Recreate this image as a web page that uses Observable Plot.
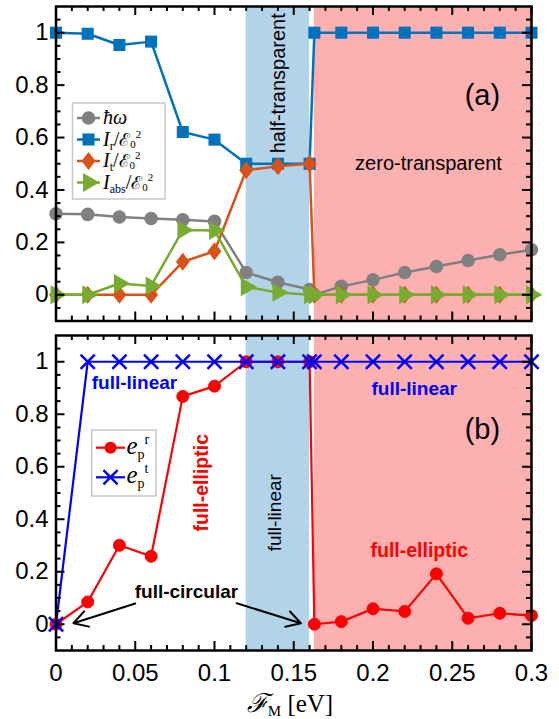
<!DOCTYPE html>
<html><head><meta charset="utf-8">
<script src="https://cdn.jsdelivr.net/npm/d3@7"></script>
<script src="https://cdn.jsdelivr.net/npm/@observablehq/plot@0.6"></script>
<style>
html,body{margin:0;padding:0;background:#fff;}
#wrap{position:relative;width:559px;height:719px;overflow:hidden;background:#fff;}
</style></head><body><div id="wrap"></div>
<script>
// ---------- data ----------
const xVals      = [0,0.02,0.04,0.06,0.08,0.1,0.12,0.14,0.16,0.163,0.18,0.2,0.22,0.24,0.26,0.28,0.3];
const hbarOmega  = [0.309,0.307,0.297,0.291,0.286,0.280,0.085,0.048,0.020,0,0.032,0.057,0.085,0.108,0.131,0.153,0.172];
const intensR    = [1,0.996,0.953,0.966,0.621,0.592,0.5,0.5,0.5,1,1,1,1,1,1,1,1];
const intensT    = [0,0,0,0,0.126,0.166,0.475,0.49,0.5,0,0,0,0,0,0,0,0];
const intensAbs  = [0,0,0.043,0.034,0.247,0.245,0.03,0.009,0,0,0,0,0,0,0,0,0];
const ellipR     = [0,0.085,0.301,0.259,0.868,0.907,1,1,1,0,0.01,0.059,0.049,0.192,0.023,0.042,0.033];
const ellipT     = [0,1,1,1,1,1,1,1,1,1,1,1,1,1,1,1,1];

const xDomain = [0,0.3];
const yDomain = [-0.1,1.1];
const xMajorTicks = [0,0.05,0.1,0.15,0.2,0.25,0.3];
const xTickLabels = ["0","0.05","0.1","0.15","0.2","0.25","0.3"];
const xMinorTicks = [0.01,0.02,0.03,0.04,0.06,0.07,0.08,0.09,0.11,0.12,0.13,0.14,0.16,0.17,0.18,0.19,0.21,0.22,0.23,0.24,0.26,0.27,0.28,0.29];
const yMajorTicks = [0,0.2,0.4,0.6,0.8,1];
const yTickLabels = ["0","0.2","0.4","0.6","0.8","1"];
const yMinorTicks = [-0.05,0.05,0.1,0.15,0.25,0.3,0.35,0.45,0.5,0.55,0.65,0.7,0.75,0.85,0.9,0.95,1.05];

const bandBlue = [{start:0.12, end:0.16}];
const bandPink = [{start:0.163, end:0.3}];

const topNotes = [
  {x:0.1404, y:0.807, text:"half-transparent", rotate:-90, size:20, weight:"normal", color:"black"},
  {x:0.269,  y:0.758, text:"(a)", rotate:0, size:29, weight:"normal", color:"black"},
  {x:0.235,  y:0.50,  text:"zero-transparent", rotate:0, size:20, weight:"normal", color:"black"}
];
const bottomNotes = [
  {x:0.269,  y:0.742, text:"(b)", rotate:0, size:29, weight:"normal", color:"black"},
  {x:0.226,  y:0.895, text:"full-linear", rotate:0, size:19, weight:"bold", color:"#0000ff"},
  {x:0.0495, y:0.921, text:"full-linear", rotate:0, size:19, weight:"bold", color:"#0000ff"},
  {x:0.0918, y:0.539, text:"full-elliptic", rotate:-90, size:19.5, weight:"bold", color:"#ff0000"},
  {x:0.1378, y:0.425, text:"full-linear", rotate:-90, size:19, weight:"normal", color:"black"},
  {x:0.2292, y:0.2785, text:"full-elliptic", rotate:0, size:19.5, weight:"bold", color:"#ff0000"},
  {x:0.0823, y:0.125, text:"full-circular", rotate:0, size:19, weight:"bold", color:"black"}
];
const arrows = [
  {x1:0.050, y1:0.079, x2:0.011, y2:0.004},
  {x1:0.114, y1:0.080, x2:0.1545, y2:0.004}
];

// ---------- styles ----------
const C = {gray:"#808080", blue:"#0072BD", orange:"#D95319", green:"#77AC30", red:"#ff0000", pblue:"#0000ff",
           bandBlue:"#b3d3e9", bandPink:"#fdb0b0"};
const SANS = "'Liberation Sans', Arial, Helvetica, sans-serif";
const SERIF = "'Liberation Serif', 'DejaVu Serif', serif";
const W = 559, mL = 55.5, mR = 28;
const innerW = W - mL - mR;

const triRight = {draw(ctx, size){ const y = Math.sqrt(size/(Math.sqrt(3)*3)); ctx.moveTo(2*y,0); ctx.lineTo(-y,-Math.sqrt(3)*y); ctx.lineTo(-y,Math.sqrt(3)*y); ctx.closePath(); }};
const diamondW = {draw(ctx, size){ const k = 0.78; const h = Math.sqrt(size/(2*k)); const w = k*h; ctx.moveTo(0,-h); ctx.lineTo(w,0); ctx.lineTo(0,h); ctx.lineTo(-w,0); ctx.closePath(); }};

const pts = ys => xVals.map((x,i) => ({x, y: ys[i]}));

function tickMarks(innerH){
  return [
    Plot.ruleY(yMajorTicks, {insetRight: innerW - 9, stroke:"black", strokeWidth:2}),
    Plot.ruleY(yMajorTicks, {insetLeft: innerW - 9, stroke:"black", strokeWidth:2}),
    Plot.ruleY(yMinorTicks, {insetRight: innerW - 5, stroke:"black", strokeWidth:2}),
    Plot.ruleY(yMinorTicks, {insetLeft: innerW - 5, stroke:"black", strokeWidth:2}),
    Plot.ruleX(xMajorTicks, {insetTop: innerH - 9, stroke:"black", strokeWidth:2}),
    Plot.ruleX(xMajorTicks, {insetBottom: innerH - 9, stroke:"black", strokeWidth:2}),
    Plot.ruleX(xMinorTicks, {insetTop: innerH - 5, stroke:"black", strokeWidth:2}),
    Plot.ruleX(xMinorTicks, {insetBottom: innerH - 5, stroke:"black", strokeWidth:2})
  ];
}
const noteMarks = notes => notes.map(n => Plot.text([n], {x:"x", y:"y", text:"text", rotate:n.rotate, fontSize:n.size, fontWeight:n.weight, fill:n.color, fontFamily:SANS}));
const bands = () => [
  Plot.rect(bandBlue, {x1:"start", x2:"end", y1:yDomain[0], y2:yDomain[1], fill:C.bandBlue}),
  Plot.rect(bandPink, {x1:"start", x2:"end", y1:yDomain[0], y2:yDomain[1], fill:C.bandPink})
];
const yAxis = () => Plot.axisY(yMajorTicks, {anchor:"left", tickSize:0, tickPadding:7.5, label:null,
  tickFormat: d => yTickLabels[yMajorTicks.indexOf(d)], fontSize:24, fontFamily:SANS, fill:"black"});

// ---------- top panel ----------
const topH = 330, topMT = 6, topMB = 9.5;
const topPlot = Plot.plot({
  width: W, height: topH, marginTop: topMT, marginBottom: topMB, marginLeft: mL, marginRight: mR,
  style: {fontFamily: SANS, fontSize:"24px", background:"transparent", overflow:"visible", color:"black"},
  x: {domain: xDomain, axis: null},
  y: {domain: yDomain},
  marks: [
    ...bands(),
    ...noteMarks(topNotes),
    Plot.line(pts(hbarOmega), {x:"x", y:"y", stroke:C.gray, strokeWidth:2.5}),
    Plot.dot(pts(hbarOmega), {x:"x", y:"y", symbol:"circle", r:6.8, fill:C.gray}),
    Plot.line(pts(intensR), {x:"x", y:"y", stroke:C.blue, strokeWidth:2.5}),
    Plot.dot(pts(intensR), {x:"x", y:"y", symbol:"square", r:6.8, fill:C.blue}),
    Plot.line(pts(intensT), {x:"x", y:"y", stroke:C.orange, strokeWidth:2.5}),
    Plot.dot(pts(intensT), {x:"x", y:"y", symbol:diamondW, r:6.3, fill:C.orange}),
    Plot.line(pts(intensAbs), {x:"x", y:"y", stroke:C.green, strokeWidth:2.5}),
    Plot.dot(pts(intensAbs), {x:"x", y:"y", symbol:triRight, r:7, fill:C.green}),
    ...tickMarks(topH - topMT - topMB),
    yAxis(),
    Plot.frame({stroke:"black", strokeWidth:2.5})
  ]
});

// ---------- bottom panel ----------
const botTop = 330, botH = 389, botMT = 5, botMB = 69;
const botPlot = Plot.plot({
  width: W, height: botH, marginTop: botMT, marginBottom: botMB, marginLeft: mL, marginRight: mR,
  style: {fontFamily: SANS, fontSize:"24px", background:"transparent", overflow:"visible", color:"black"},
  x: {domain: xDomain},
  y: {domain: yDomain},
  marks: [
    ...bands(),
    ...noteMarks(bottomNotes),
    Plot.arrow(arrows, {x1:"x1", y1:"y1", x2:"x2", y2:"y2", stroke:"black", strokeWidth:2, headLength:12}),
    Plot.line(pts(ellipR), {x:"x", y:"y", stroke:C.red, strokeWidth:2.2}),
    Plot.dot(pts(ellipR), {x:"x", y:"y", symbol:"circle", r:6, fill:C.red, stroke:C.red, strokeWidth:1}),
    Plot.line(pts(ellipT), {x:"x", y:"y", stroke:C.pblue, strokeWidth:2.2}),
    Plot.dot(pts(ellipT), {x:"x", y:"y", symbol:"times", r:6.5, stroke:C.pblue, strokeWidth:2.5, fill:"none"}),
    ...tickMarks(botH - botMT - botMB),
    yAxis(),
    Plot.axisX(xMajorTicks, {anchor:"bottom", tickSize:0, tickPadding:13, label:null,
      tickFormat: d => xTickLabels[xMajorTicks.indexOf(d)], fontSize:24, fontFamily:SANS, fill:"black"}),
    Plot.frame({stroke:"black", strokeWidth:2.5})
  ]
});

const wrap = document.getElementById("wrap");
[[topPlot,0],[botPlot,botTop]].forEach(([el,t]) => {
  el.style.position = "absolute"; el.style.left = "0px"; el.style.top = t + "px";
  wrap.appendChild(el);
});

// ---------- legends and x label (overlay) ----------
const ov = d3.select(wrap).append("svg").attr("width", W).attr("height", 719)
  .style("position","absolute").style("left","0px").style("top","0px").style("pointer-events","none");

function rich(g, x, y, parts, anchor){
  const t = g.append("text").attr("x", x).attr("y", y).attr("font-family", SERIF).attr("fill","black");
  if (anchor) t.attr("text-anchor", anchor);
  parts.forEach(p => {
    const s = t.append("tspan").text(p.t).attr("font-size", p.s);
    if (p.i) s.attr("font-style","italic");
    if (p.dy) s.attr("dy", p.dy);
    if (p.dx) s.attr("dx", p.dx);
    if (p.f) s.attr("font-family", p.f);
  });
  return t;
}
const symPath = (type, r) => d3.symbol(type, Math.PI*r*r)();

// top legend
const lg1 = ov.append("g");
lg1.append("rect").attr("x",72.5).attr("y",103).attr("width",92.5).attr("height",96)
  .attr("fill","white").attr("stroke","#c8c8c8").attr("stroke-width",1.5);
const frac = sub => [{t:"I", s:20, i:true},{t:sub, s:12, dy:4},{t:"/", s:20, dy:-4},{t:"ℰ", s:18, f:"'DejaVu Serif', serif"},{t:"0", s:11, dy:2},{t:"2", s:11, dy:-10}];
const leg1 = [
  {c:C.gray, s:d3.symbolCircle, r:6.8, parts:[{t:"ħω", s:20, i:true}]},
  {c:C.blue, s:d3.symbolSquare, r:6.8, parts:frac("r")},
  {c:C.orange, s:diamondW, r:6.3, parts:frac("t")},
  {c:C.green, s:triRight, r:7, parts:frac("abs")}
];
const rows1 = [118, 139.5, 161, 182.5];
leg1.forEach((it, k) => {
  const y = rows1[k];
  lg1.append("line").attr("x1",77).attr("x2",100).attr("y1",y).attr("y2",y).attr("stroke",it.c).attr("stroke-width",2.5);
  lg1.append("path").attr("d", symPath(it.s, it.r)).attr("transform",`translate(88.5,${y})`).attr("fill",it.c);
  rich(lg1, 103, y + 6, it.parts);
});

// bottom legend
const lg2 = ov.append("g");
lg2.append("rect").attr("x",91.7).attr("y",430).attr("width",64.3).attr("height",66)
  .attr("fill","white").attr("stroke","#c8c8c8").attr("stroke-width",1.5);
const rows2 = [447.7, 477.3];
[{c:C.red, kind:"r"},{c:C.pblue, kind:"t"}].forEach((it,k) => {
  const y = rows2[k];
  lg2.append("line").attr("x1",96).attr("x2",125).attr("y1",y).attr("y2",y).attr("stroke",it.c).attr("stroke-width",2.2);
  if (it.kind === "r") lg2.append("path").attr("d", symPath(d3.symbolCircle, 6)).attr("transform",`translate(110.5,${y})`).attr("fill",it.c);
  else lg2.append("path").attr("d", symPath(d3.symbolTimes, 6.5)).attr("transform",`translate(110.5,${y})`).attr("fill","none").attr("stroke",it.c).attr("stroke-width",2.5);
  rich(lg2, 126.5, y + 6, [{t:"e", s:25, i:true},{t:"p", s:14, dy:5},{t:it.kind, s:14, dy:-15}]);
});

// x axis label
rich(ov, 290, 712, [{t:"ℱ", s:26, f:"'DejaVu Serif', serif", i:true},{t:"M", s:15, dy:4},{t:" [eV]", s:25, dy:-4}], "middle");
</script>
</body></html>
